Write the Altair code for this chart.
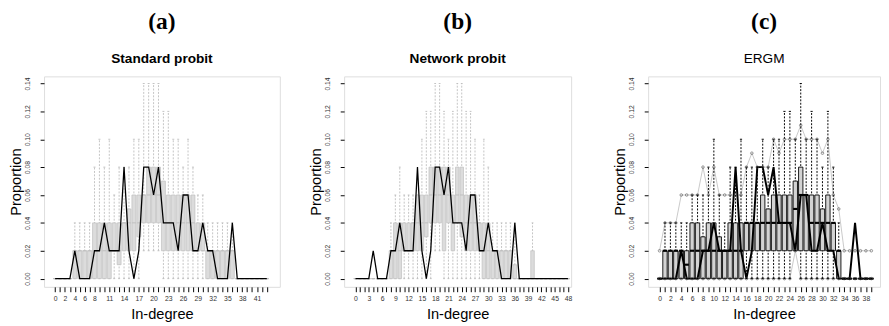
import altair as alt
import pandas as pd

# ---------------- data ----------------
# observed in-degree proportions (same network in all panels)
obs_a = [0,0,0,0,0.02,0,0,0,0.02,0.02, 0.04,0.02,0.02,0.02,0.08,0.02,0,0.02,0.08,0.08,
         0.06,0.08,0.04,0.04,0.04,0.02,0.06,0.06,0.02,0.02, 0.04,0.02,0.02,0,0,0,0.04,0,0,0,
         0,0,0,0]
obs_b = [0,0,0,0,0.02,0,0,0,0.02,0.02, 0.04,0.02,0.02,0.02,0.08,0.02,0,0.02,0.08,0.08,
         0.06,0.08,0.04,0.04,0.04,0.02,0.06,0.06,0.02,0.02, 0.04,0.02,0.02,0,0,0,0.04,0,0,0,
         0,0,0,0,0,0,0,0,0]
obs_c = [0,0,0,0,0.02,0,0,0,0.02,0.02, 0.04,0.02,0.02,0.02,0.08,0.02,0,0.02,0.08,0.08,
         0.06,0.08,0.04,0.04,0.04,0.02,0.06,0.06,0.02,0.02, 0.04,0.02,0.02,0,0,0,0.04,0,0,0]

# (a) Standard probit, simulated boxplots (degrees 0..43)
lo_a  = [0]*18 + [0.02]*4 + [0]*22
q1_a  = [0]*12 + [0.02,0.01,0.02,0.02,0.02,0.03,0.04,0.04,0.04,0.04] + [0.02]*9 + [0]*13
med_a = [0,0,0,0,0.02,0.02,0.02,0.02,0.02,0.02,0.02,0.02,0.02,0.02,0.04,0.04,0.04,0.04,
         0.06,0.06,0.06,0.06,0.04,0.04,0.04,0.04,0.04,0.04,0.04,0.02,0.02,
         0.02,0.02,0.02,0.02,0.02,0.02,0,0,0,0,0,0,0]
q3_a  = [0,0,0,0,0.02,0.02,0.02,0.02,0.04,0.04,0.04,0.04,0.04,0.04,0.04,0.05,0.06,0.06,
         0.06,0.08,0.08,0.08,0.07,0.06,0.06,0.06,0.06,0.06,0.06,0.04,0.04,
         0.02,0.02,0.02,0.02,0.02,0.02,0,0,0,0,0,0,0]
hi_a  = [0,0,0,0,0.04,0.04,0.04,0.04,0.08,0.10,0.08,0.10,0.06,0.08,0.08,0.08,0.10,0.10,
         0.14,0.14,0.14,0.14,0.12,0.12,0.10,0.10,0.08,0.10,0.08,0.06,0.06,
         0.04,0.04,0.04,0.04,0.04,0.04,0,0,0,0,0,0,0]

# (b) Network probit (degrees 0..48)
lo_b  = [0]*18 + [0.02,0.02] + [0]*29
q1_b  = [0]*11 + [0.02,0.02,0.02,0.02,0.02,0.03,0.04,0.04,0.04,0.02,0.04,0.02,0.04,0.03,
                  0.02,0.02,0.02,0.02] + [0]*20
med_b = [0,0,0,0,0,0,0,0,0.02,0.02,0.02,0.02,0.02,0.04,0.04,0.04,0.04,0.06,0.06,0.06,
         0.06,0.06,0.04,0.06,0.06,0.04,0.04,0.04,0.04,0.02,0.02,0.02,0.02,0.02,0.02,0.02,
         0,0,0,0,0,0,0,0,0,0,0,0,0]
q3_b  = [0,0,0,0,0,0,0,0,0.02,0.04,0.04,0.04,0.04,0.04,0.06,0.06,0.06,0.08,0.08,0.08,
         0.08,0.08,0.06,0.08,0.08,0.06,0.06,0.06,0.04,0.04,0.04,0.02,0.02,0.02,0.02,0.02,
         0.01,0,0,0,0.02,0,0,0,0,0,0,0,0]
hi_b  = [0,0,0,0,0,0,0,0,0.04,0.06,0.08,0.06,0.06,0.06,0.06,0.10,0.12,0.12,0.14,0.14,
         0.12,0.10,0.12,0.14,0.14,0.12,0.12,0.10,0.06,0.10,0.08,0.04,0.04,0.04,0.04,0.04,
         0.04,0,0,0,0.04,0,0,0,0,0,0,0,0]

# (c) ERGM (degrees 0..39)
lo_c  = [0]*25 + [0.02] + [0]*14
q1_c  = [0]*16 + [0.02]*17 + [0]*7
med_c = [0,0.02,0.02,0.02,0.02,0.01,0.02,0.02,0.02,0.02,0.02,0.02,0.02,0.02,0.02,0.02,
         0.04,0.04,0.04,0.04,0.04,0.04,0.04,0.04,0.04,0.05,0.06,0.06,0.04,0.04,0.04,0.04,
         0.04,0.02,0,0,0,0,0,0]
q3_c  = [0,0.02,0.02,0.02,0.02,0.02,0.04,0.04,0.03,0.04,0.04,0.03,0.02,0.04,0.04,0.04,
         0.04,0.04,0.04,0.06,0.05,0.06,0.06,0.06,0.06,0.07,0.08,0.06,0.06,0.06,0.05,0.06,
         0.04,0.02,0,0,0,0,0,0]
hi_c  = [0,0.04,0.04,0.04,0.04,0.04,0.06,0.06,0.06,0.08,0.10,0.06,0.04,0.08,0.08,0.10,
         0.08,0.08,0.08,0.10,0.08,0.10,0.10,0.12,0.12,0.10,0.14,0.10,0.12,0.10,0.08,0.12,
         0.08,0.04,0,0,0,0,0,0]
upper_c = [0.02,0.04,0.04,0.04,0.06,0.06,0.06,0.06,0.08,0.06,0.08,0.06,0.06,0.06,0.06,0.06,
           0.08,0.09,0.08,0.08,0.08,0.10,0.09,0.10,0.10,0.10,0.11,0.10,0.10,0.10,0.09,0.10,
           0.06,0.05,0.02,0.02,0.02,0.02,0.02,0.02]
lower_c = [0]*25 + [0.02] + [0]*14

labels_a = [0,2,4,6,8,11,14,17,20,23,26,29,32,35,38,41]
labels_b = [0,3,6,9,12,15,18,21,24,27,30,33,36,39,42,45,48]
labels_c = [0,2,4,6,8,10,12,14,16,18,20,22,24,26,28,30,32,34,36,38]

FONT = "Liberation Sans"
YDOM = [-0.0059, 0.1451]
H = 216


def panel(obs, lo, q1, med, q3, hi, labels, xdom, width, title, subtitle, style,
          upper=None, lower=None):
    n = len(obs)
    d = {"i": list(range(n)), "obs": obs, "lo": lo, "q1": q1, "med": med, "q3": q3, "hi": hi}
    if upper is not None:
        d["upper"] = upper
        d["lower"] = lower
    df = pd.DataFrame(d)
    base = alt.Chart(df).transform_calculate(
        xl="datum.i - 0.4", xr="datum.i + 0.4", cl="datum.i - 0.2", cr="datum.i + 0.2"
    )
    xs = alt.Scale(domain=xdom, nice=False, zero=False)
    ys = alt.Scale(domain=YDOM, nice=False, zero=False)
    lab = "[" + ",".join(str(v) for v in labels) + "]"
    xaxis = alt.Axis(values=list(range(n)),
                     labelExpr=f"indexof({lab}, datum.value) >= 0 ? datum.label : ''",
                     labelOverlap=False, labelFlush=False, tickSize=5, tickColor="black",
                     tickWidth=1, domain=False, grid=False, labelFontSize=7,
                     labelColor="#333333", labelPadding=3, titleFontSize=15,
                     titleFontWeight="normal", titlePadding=6, titleColor="black")
    yaxis = alt.Axis(values=[0, 0.02, 0.04, 0.06, 0.08, 0.10, 0.12, 0.14], format=".2f",
                     labelAngle=-90, labelAlign="center", labelBaseline="bottom",
                     tickSize=4, tickColor="black", labelPadding=10, labelFontSize=7,
                     labelColor="#333333", domain=False, grid=False, titleFontSize=15,
                     titleFontWeight="normal", titlePadding=0, titleColor="black")

    def X(f):
        return alt.X(f, type="quantitative", scale=xs, axis=xaxis, title="In-degree")

    def Y(f):
        return alt.Y(f, type="quantitative", scale=ys, axis=yaxis, title="Proportion")

    if style == "light":
        box_fill, box_stroke, box_sw = "#dcdcdc", "#bebebe", 0.7
        wcol, wsw, med_col, med_sw = "#b4b4b4", 0.8, "#bebebe", 1.0
        obs_sw = 1.3
    else:
        box_fill, box_stroke, box_sw = "#d3d3d3", "black", 0.9
        wcol, wsw, med_col, med_sw = "black", 1.0, "black", 2.2
        obs_sw = 2.0

    layers = []
    if upper is not None:
        layers.append(base.mark_line(color="#c8c8c8", strokeWidth=1).encode(x=X("i"), y=Y("upper")))
        layers.append(base.mark_line(color="#c8c8c8", strokeWidth=1).encode(x=X("i"), y=Y("lower")))
    layers.append(base.mark_rule(color=wcol, strokeWidth=wsw, strokeDash=[2, 1.5]).encode(
        x=X("i"), y=Y("lo"), y2=alt.Y2("hi")))
    layers.append(base.mark_rule(color=wcol, strokeWidth=wsw).encode(
        x=X("cl"), x2=alt.X2("cr"), y=Y("hi")))
    layers.append(base.mark_rule(color=wcol, strokeWidth=wsw).encode(
        x=X("cl"), x2=alt.X2("cr"), y=Y("lo")))
    layers.append(base.mark_rect(fill=box_fill, stroke=box_stroke, strokeWidth=box_sw).encode(
        x=X("xl"), x2=alt.X2("xr"), y=Y("q1"), y2=alt.Y2("q3")))
    layers.append(base.mark_rule(color=med_col, strokeWidth=med_sw).encode(
        x=X("xl"), x2=alt.X2("xr"), y=Y("med")))
    layers.append(base.mark_line(color="black", strokeWidth=obs_sw).encode(x=X("i"), y=Y("obs")))
    if upper is not None:
        for f in ["upper", "lower"]:
            layers.append(base.mark_point(shape="circle", filled=False, color="#444444",
                                          size=7, strokeWidth=0.8).encode(x=X("i"), y=Y(f)))

    tp = dict(text=title, subtitle=subtitle, font="Liberation Serif", fontSize=24,
              fontWeight="bold", color="black", subtitleFont=FONT, subtitleFontSize=14,
              subtitleFontWeight="bold" if style == "light" else "normal",
              subtitleColor="black", subtitlePadding=19, anchor="middle", frame="group",
              offset=11)
    return alt.layer(*layers).properties(width=width, height=H, title=alt.TitleParams(**tp))


pa = panel(obs_a, lo_a, q1_a, med_a, q3_a, hi_a, labels_a, [-2.25, 45.65], 242,
           "(a)", "Standard probit", "light")
pb = panel(obs_b, lo_b, q1_b, med_b, q3_b, hi_b, labels_b, [-2.57, 48.73], 233,
           "(b)", "Network probit", "light")
pc = panel(obs_c, lo_c, q1_c, med_c, q3_c, hi_c, labels_c, [-2.1, 40.6], 238,
           "(c)", "ERGM", "dark", upper=upper_c, lower=lower_c)

chart = alt.hconcat(alt.hconcat(pa, pb, spacing=28), pc, spacing=40).properties(
    padding={"left": 0, "top": -3, "right": 0, "bottom": 0}
).configure_view(stroke="black", strokeWidth=1).configure_axis(
    labelFont=FONT, titleFont=FONT
).configure(background="white")

chart.save("out.html", embed_options={"renderer": "svg", "actions": False})
